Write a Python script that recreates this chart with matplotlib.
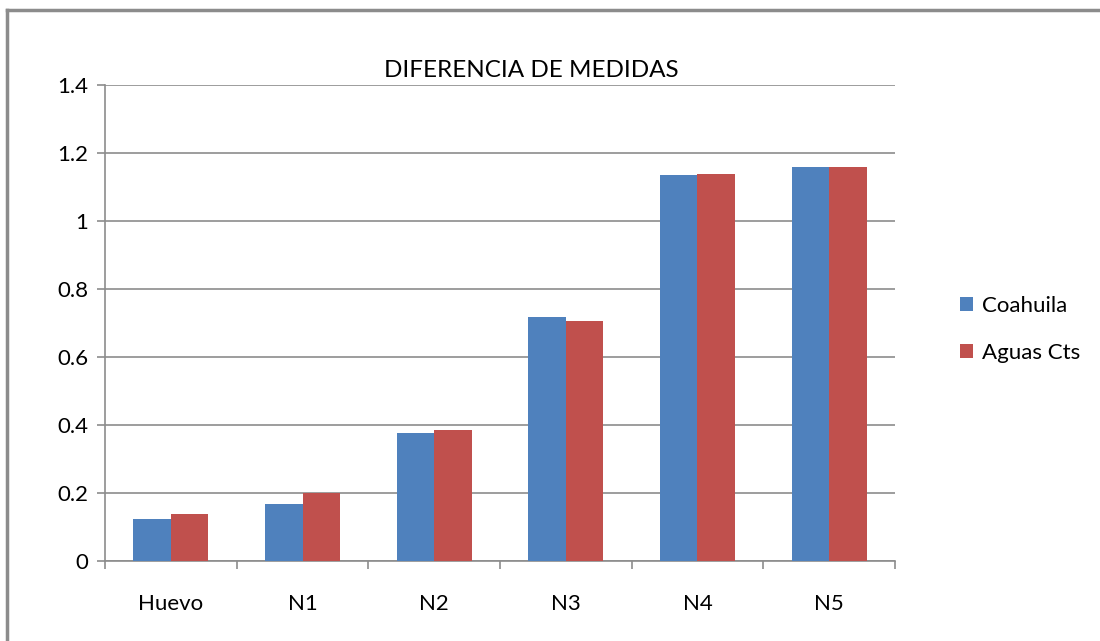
import numpy as np
import matplotlib.pyplot as plt
from matplotlib.lines import Line2D

categories = ['Huevo', 'N1', 'N2', 'N3', 'N4', 'N5']
coahuila = [0.125, 0.167, 0.376, 0.717, 1.135, 1.158]
aguas = [0.137, 0.200, 0.385, 0.706, 1.139, 1.158]

plt.rcParams['font.family'] = ['Lato', 'DejaVu Sans']

fig = plt.figure(figsize=(11, 6.41), dpi=100)
ax = fig.add_axes([0.0955, 0.1248, 0.7181, 0.7426])

x = np.arange(len(categories))
w = 0.285
ax.bar(x - w/2, coahuila, w, color='#4f81bd', label='Coahuila', zorder=3)
ax.bar(x + w/2, aguas, w, color='#c0504d', label='Aguas Cts', zorder=3)

ax.set_xlim(-0.5, len(categories) - 0.5)
ax.set_ylim(0, 1.4)
ax.set_yticks(np.arange(0, 1.41, 0.2))
ax.set_yticklabels(['0', '0.2', '0.4', '0.6', '0.8', '1', '1.2', '1.4'], fontsize=16)
ax.yaxis.grid(True, color='#8c8c8c', linewidth=1.2, zorder=0)

# category labels centred, ticks on the boundaries
ax.set_xticks(x)
ax.set_xticklabels(categories, fontsize=16)
ax.tick_params(axis='x', length=0, pad=24)
ax.set_xticks(np.arange(-0.5, len(categories)), minor=True)
ax.tick_params(axis='x', which='minor', length=6, color='#8c8c8c', width=1.2)
ax.tick_params(axis='y', length=6, color='#8c8c8c', width=1.2, pad=6)

for s in ['top', 'right']:
    ax.spines[s].set_visible(False)
for s in ['left', 'bottom']:
    ax.spines[s].set_color('#8c8c8c')
    ax.spines[s].set_linewidth(1.2)

ax.set_title('DIFERENCIA DE MEDIDAS', fontsize=17.5, x=0.54, pad=6)

ax.legend(loc='center left', bbox_to_anchor=(1.057, 0.487), frameon=False,
          fontsize=16, handlelength=0.6, handleheight=0.6, labelspacing=1.2,
          handletextpad=0.4)

# outer chart border (only top and left are visible in the crop)
bx, by = 7/1100, 1 - 10/641
fig.add_artist(Line2D([bx, 1.0], [by, by], transform=fig.transFigure,
                      color='#8c8c8c', linewidth=2.5))
fig.add_artist(Line2D([bx, bx], [0, by], transform=fig.transFigure,
                      color='#8c8c8c', linewidth=2.5))

plt.savefig('out.png', dpi=100)
